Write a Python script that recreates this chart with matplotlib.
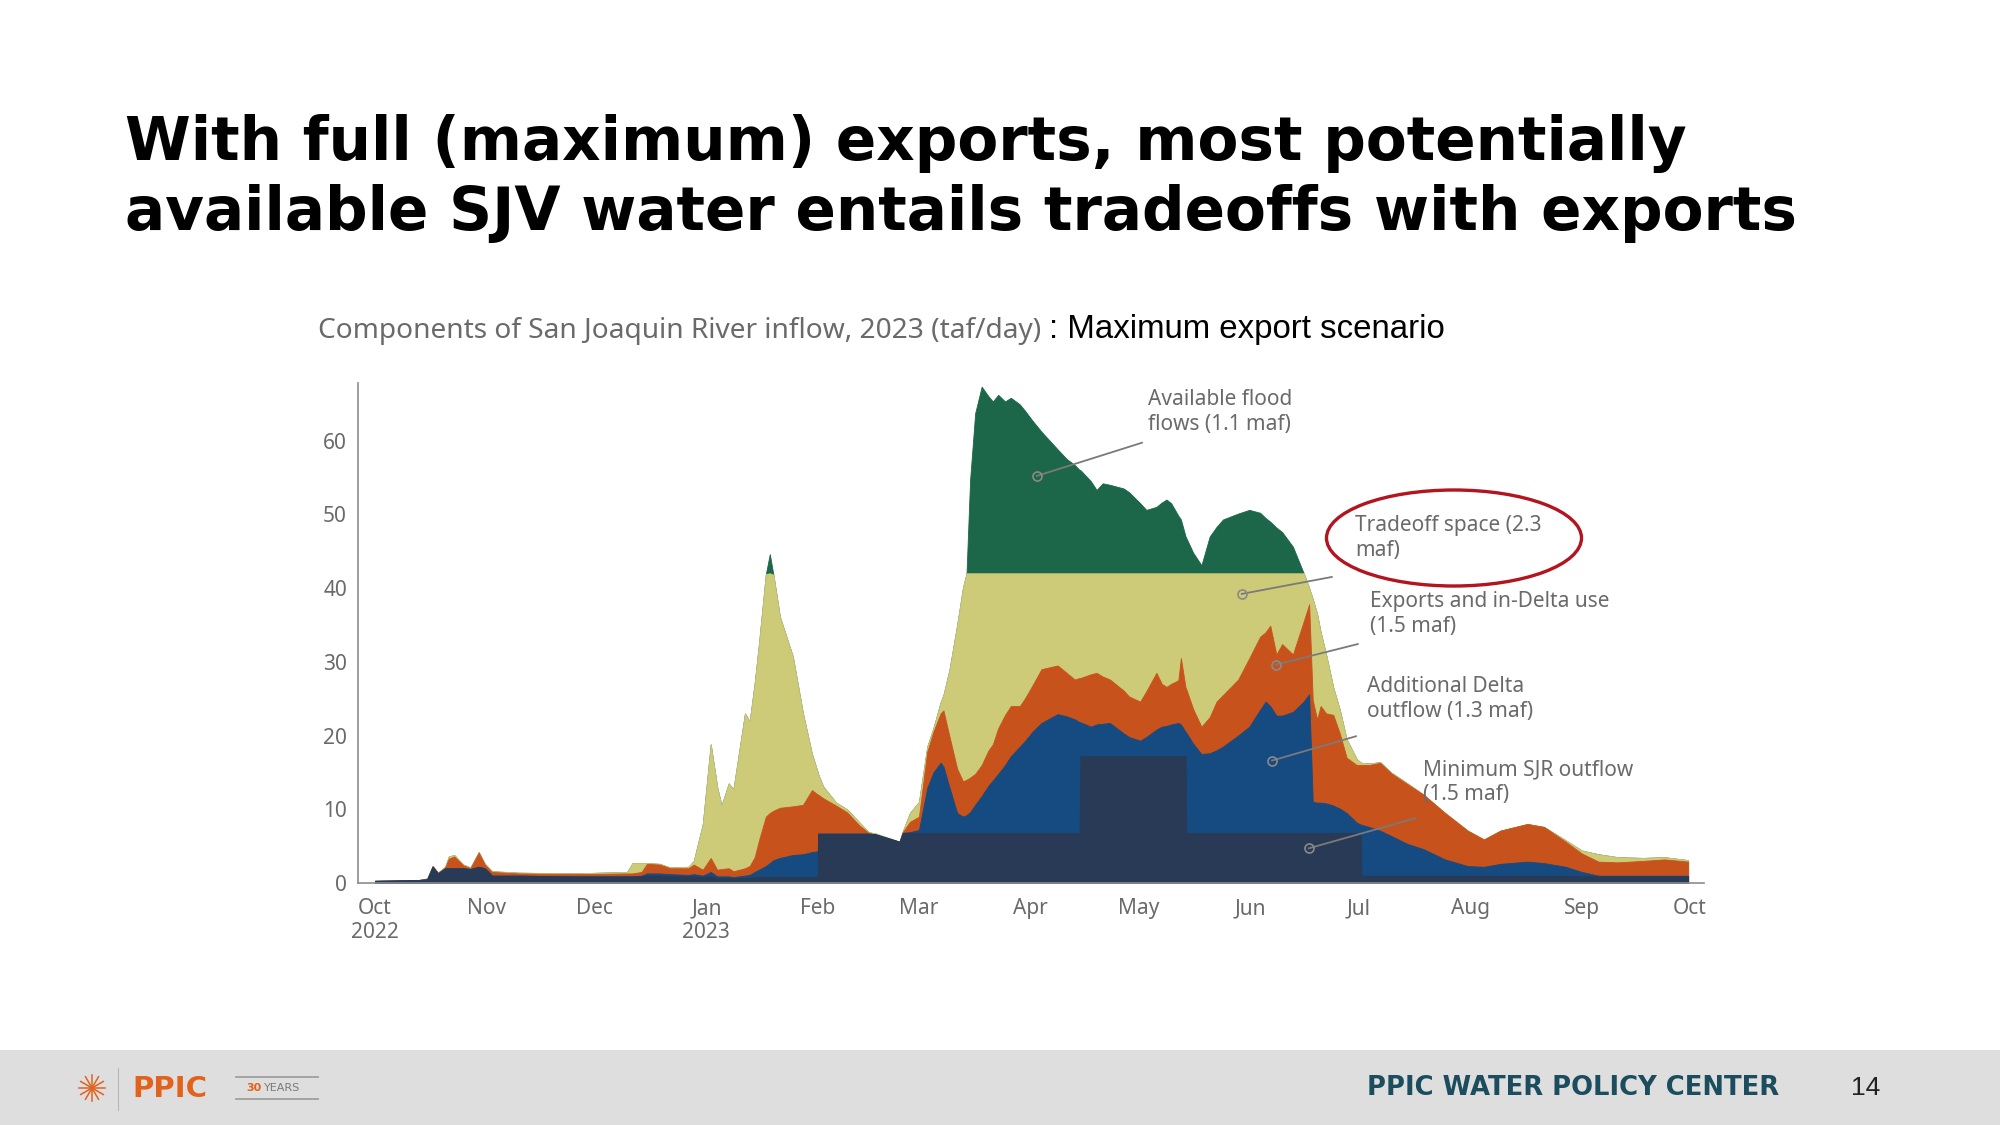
import numpy as np
import matplotlib
matplotlib.use("Agg")
import matplotlib.pyplot as plt
import matplotlib.dates as mdates
from matplotlib.patches import Ellipse, Rectangle
from datetime import datetime

# days after 1 Oct 2022
day = [0, 12, 14.5, 16, 17.5, 19.5, 20.5, 22, 24.5, 26.5,
       28.8, 30.5, 32.5, 40, 55, 70, 71.5, 74, 75.5, 79,
       82, 87, 88.5, 91, 93.2, 95, 96.2, 98.2, 99.5, 102.7,
       104, 105.4, 106.6, 108.5, 109.6, 110.6, 112.4, 116, 118.8, 121.3,
       122.9, 123, 124.4, 128, 131, 134.5, 137, 139, 145.6, 146.5,
       148.5, 151, 153.3, 155, 157, 157.8, 159.5, 161.6, 163.2, 164.2,
       165.2, 166.6, 168.4, 170.3, 171.5, 173, 174.9, 176.5, 179, 180.5,
       182.5, 185, 189.5, 192, 194.2, 195.6, 195.8, 198.7, 200.3, 202,
       204, 207.8, 209.3, 212.4, 214.1, 216.9, 218.4, 219.7, 221, 223,
       223.7, 225, 225.2, 227.1, 229.4, 231.7, 233.6, 235.4, 239.6, 242.7,
       245.7, 247.2, 248.5, 250.2, 251.8, 254.8, 257.8, 259.3, 260.3, 261.5,
       262.5, 264, 266, 267.8, 269.7, 272.5, 273.7, 273.8, 276, 279,
       282, 286.6, 291, 297, 303.3, 307.8, 312.4, 319.9, 324.5, 330.5,
       335, 339.6, 345, 352, 358, 364.5]

# upper edge of each stacked layer, taf/day
edge_min_sjr = [0.3, 0.4, 0.5, 2.2, 1.3, 2.0, 2.0, 2.0, 2.0, 1.9,
                2.2, 2.0, 1.0, 1.0, 0.9, 0.9, 0.9, 0.9, 1.0, 1.0,
                0.9, 0.9, 0.9, 0.8, 0.9, 0.7, 0.7, 0.7, 0.6, 0.7,
                0.7, 0.8, 0.8, 0.8, 0.8, 0.8, 0.8, 0.8, 0.8, 0.8,
                0.8, 6.7, 6.7, 6.7, 6.7, 6.7, 6.7, 6.6, 5.6, 6.8,
                6.8, 6.8, 6.8, 6.8, 6.8, 6.8, 6.8, 6.8, 6.8, 6.8,
                6.8, 6.8, 6.8, 6.8, 6.8, 6.8, 6.8, 6.8, 6.8, 6.8,
                6.8, 6.8, 6.8, 6.8, 6.8, 6.8, 17.2, 17.2, 17.2, 17.2,
                17.2, 17.2, 17.2, 17.2, 17.2, 17.2, 17.2, 17.2, 17.2, 17.2,
                17.2, 17.2, 6.8, 6.8, 6.8, 6.8, 6.8, 6.8, 6.8, 6.8,
                6.8, 6.8, 6.8, 6.8, 6.8, 6.8, 6.8, 6.8, 6.8, 6.8,
                6.8, 6.8, 6.8, 6.8, 6.8, 6.8, 6.8, 1.0, 1.0, 1.0,
                1.0, 1.0, 1.0, 1.0, 1.0, 1.0, 1.0, 1.0, 1.0, 1.0,
                0.9, 0.9, 0.9, 0.9, 0.9, 0.9]
edge_delta_outflow = [0.3, 0.4, 0.5, 2.2, 1.3, 2.0, 2.0, 2.0, 2.0, 1.9,
                      2.2, 2.0, 1.0, 1.0, 0.9, 0.9, 0.9, 1.0, 1.3, 1.3,
                      1.2, 1.1, 1.2, 1.0, 1.5, 0.9, 0.9, 0.9, 0.8, 1.0,
                      1.1, 1.5, 1.8, 2.3, 2.7, 3.1, 3.4, 3.8, 3.9, 4.2,
                      4.3, 6.7, 6.7, 6.7, 6.7, 6.7, 6.7, 6.6, 5.6, 6.8,
                      6.9, 7.2, 12.9, 15.0, 16.3, 15.8, 12.9, 9.5, 9.0, 9.2,
                      9.6, 10.6, 11.8, 13.2, 13.9, 14.8, 16.0, 17.2, 18.5, 19.3,
                      20.5, 21.7, 22.9, 22.6, 22.2, 21.8, 21.8, 21.2, 21.5, 21.6,
                      21.7, 20.3, 19.8, 19.3, 19.8, 20.8, 21.2, 21.3, 21.5, 21.7,
                      21.5, 20.5, 20.4, 18.9, 17.5, 17.6, 18.0, 18.5, 20.0, 21.2,
                      23.5, 24.6, 24.0, 22.7, 22.7, 23.2, 24.6, 25.6, 11.0, 10.9,
                      10.9, 10.8, 10.5, 10.1, 9.5, 8.2, 7.9, 7.9, 7.6, 7.1,
                      6.4, 5.3, 4.6, 3.2, 2.3, 2.2, 2.6, 2.9, 2.7, 2.2,
                      1.5, 1.0, 1.0, 1.0, 1.0, 1.0]
edge_exports = [0.3, 0.4, 0.6, 2.3, 1.4, 2.1, 3.3, 3.6, 2.4, 2.0,
                4.1, 2.5, 1.5, 1.3, 1.2, 1.3, 1.3, 1.5, 2.6, 2.5,
                2.0, 2.0, 2.5, 1.8, 3.4, 1.8, 1.9, 2.0, 1.6, 2.0,
                2.3, 3.5, 5.8, 9.0, 9.5, 9.8, 10.2, 10.4, 10.6, 12.6,
                12.0, 12.0, 11.5, 10.5, 9.6, 7.8, 6.8, 6.6, 5.6, 6.9,
                8.3, 9.0, 17.8, 20.5, 23.0, 23.4, 19.8, 15.5, 13.8, 14.0,
                14.3, 14.8, 16.0, 18.0, 18.8, 21.0, 22.8, 24.0, 24.0, 25.1,
                26.8, 29.0, 29.5, 28.5, 27.6, 27.8, 27.8, 28.3, 28.5, 28.0,
                27.6, 26.1, 25.3, 24.6, 26.0, 28.5, 27.0, 26.6, 27.0, 27.5,
                30.5, 26.5, 26.3, 23.6, 21.2, 22.5, 24.6, 25.5, 27.6, 30.5,
                33.4, 34.0, 34.9, 31.0, 32.4, 31.0, 35.5, 37.8, 24.8, 22.2,
                24.0, 23.0, 22.8, 20.3, 17.0, 16.0, 16.0, 16.0, 16.0, 16.3,
                14.9, 13.4, 12.0, 9.5, 7.1, 5.9, 7.1, 8.0, 7.6, 5.6,
                4.0, 2.9, 2.8, 3.0, 3.2, 2.9]
edge_tradeoff = [0.3, 0.4, 0.6, 2.3, 1.4, 2.2, 3.6, 3.8, 2.5, 2.1,
                 4.2, 2.6, 1.6, 1.4, 1.3, 1.5, 2.7, 2.7, 2.7, 2.6,
                 2.1, 2.2, 3.0, 8.0, 18.8, 13.0, 10.5, 13.5, 12.7, 23.0,
                 21.9, 27.1, 32.5, 41.9, 42.0, 41.8, 36.1, 30.7, 23.0, 17.5,
                 15.0, 14.8, 13.1, 10.9, 10.0, 8.2, 6.9, 6.7, 5.6, 7.0,
                 9.5, 11.0, 18.5, 21.0, 24.5, 25.5, 29.0, 35.0, 40.0, 42.0,
                 42.0, 42.0, 42.0, 42.0, 42.0, 42.0, 42.0, 42.0, 42.0, 42.0,
                 42.0, 42.0, 42.0, 42.0, 42.0, 42.0, 42.0, 42.0, 42.0, 42.0,
                 42.0, 42.0, 42.0, 42.0, 42.0, 42.0, 42.0, 42.0, 42.0, 42.0,
                 42.0, 42.0, 42.0, 42.0, 42.0, 42.0, 42.0, 42.0, 42.0, 42.0,
                 42.0, 42.0, 42.0, 42.0, 42.0, 42.0, 42.0, 40.0, 38.5, 36.5,
                 34.0, 31.0, 26.5, 23.5, 19.5, 16.8, 16.3, 16.3, 16.2, 16.4,
                 15.0, 13.5, 12.0, 9.5, 7.1, 5.9, 7.1, 8.0, 7.6, 5.8,
                 4.4, 3.9, 3.5, 3.4, 3.5, 3.1]
edge_flood = [0.3, 0.4, 0.6, 2.3, 1.4, 2.2, 3.6, 3.8, 2.5, 2.1,
              4.2, 2.6, 1.6, 1.4, 1.3, 1.5, 2.7, 2.7, 2.7, 2.6,
              2.1, 2.2, 3.0, 8.0, 18.8, 13.0, 10.5, 13.5, 12.7, 23.0,
              21.9, 27.1, 32.5, 41.9, 44.6, 41.8, 36.1, 30.7, 23.0, 17.5,
              15.0, 14.8, 13.1, 10.9, 10.0, 8.2, 6.9, 6.7, 5.6, 7.0,
              9.5, 11.0, 18.5, 21.0, 24.5, 25.5, 29.0, 35.0, 40.0, 42.0,
              54.7, 63.7, 67.3, 66.0, 65.3, 66.2, 65.3, 65.8, 64.9, 64.0,
              62.7, 61.2, 58.8, 57.5, 56.7, 56.0, 56.0, 54.5, 53.3, 54.2,
              54.0, 53.5, 53.0, 51.5, 50.6, 51.0, 51.6, 52.0, 51.5, 49.8,
              49.3, 47.0, 46.8, 44.8, 43.1, 47.0, 48.3, 49.3, 50.1, 50.6,
              50.2, 49.5, 49.0, 48.2, 47.6, 45.6, 42.0, 40.0, 38.5, 36.5,
              34.0, 31.0, 26.5, 23.5, 19.5, 16.8, 16.3, 16.3, 16.2, 16.4,
              15.0, 13.5, 12.0, 9.5, 7.1, 5.9, 7.1, 8.0, 7.6, 5.8,
              4.4, 3.9, 3.5, 3.4, 3.5, 3.1]

layer_colors = ['#283a55', '#154b80', '#c8521c', '#cdca78', '#1c664a']
month_labels = ['Oct\n2022', 'Nov', 'Dec', 'Jan\n2023', 'Feb', 'Mar', 'Apr',
                'May', 'Jun', 'Jul', 'Aug', 'Sep', 'Oct']

# label text, circle (day, value), line end (day, value), text anchor (day, value)
notes = [
    ('Available flood\nflows (1.1 maf)', (183.7, 55.2), (212.9, 59.7), (214.5, 63.9)),
    ('Tradeoff space (2.3\nmaf)', (240.6, 39.2), (265.6, 41.5), (272.0, 46.8)),
    ('Exports and in-Delta use\n(1.5 maf)', (250.0, 29.6), (272.8, 32.4), (276.2, 36.5)),
    ('Additional Delta\noutflow (1.3 maf)', (249.0, 16.6), (272.3, 19.9), (275.3, 25.0)),
    ('Minimum SJR outflow\n(1.5 maf)', (259.2, 4.7), (288.9, 8.8), (290.9, 13.7)),
]

W, H = 2000, 1125
chart_font = 'Noto Sans'
grey = '#6a6a6a'
fig = plt.figure(figsize=(20, 11.25), dpi=100)

# overlay in pixel units for slide furniture
ov = fig.add_axes([0, 0, 1, 1], zorder=0)
ov.set_xlim(0, W)
ov.set_ylim(H, 0)
ov.axis('off')

ov.add_patch(Rectangle((0, 1050), W, 75, color='#dedede', lw=0))
ov.text(125, 160, 'With full (maximum) exports, most potentially', fontsize=42.9,
        fontweight='bold', family='DejaVu Sans', color='black', va='baseline')
ov.text(125, 230, 'available SJV water entails tradeoffs with exports', fontsize=42.9,
        fontweight='bold', family='DejaVu Sans', color='black', va='baseline')
ov.text(318, 338, 'Components of San Joaquin River inflow, 2023 (taf/day)', fontsize=20.2,
        family=chart_font, color=grey, va='baseline')
ov.text(1049, 338, ': Maximum export scenario', fontsize=23.8,
        family='Liberation Sans', color='black', va='baseline')

ov.add_patch(Ellipse((1454, 538), 255, 96, fill=False, ec='#b3141e', lw=2.4))

# footer logo
cx, cy = 92, 1088
for a in np.linspace(0, np.pi, 7)[:-1]:
    dx, dy = 13 * np.cos(a), 13 * np.sin(a)
    ov.plot([cx - dx, cx + dx], [cy - dy, cy + dy], color='#e0631f', lw=1.1)
ov.plot([118, 118], [1068, 1110], color='#b8b8b8', lw=0.8)
ov.text(132, 1089, 'PPIC', fontsize=21, fontweight='bold', family='DejaVu Sans',
        color='#e2621b', va='center')
ov.plot([236, 318], [1077, 1077], color='#9a9a9a', lw=1.2)
ov.plot([236, 318], [1099, 1099], color='#9a9a9a', lw=1.2)
ov.text(246, 1088, '30', fontsize=8, fontweight='bold', color='#e2621b', va='center')
ov.text(264, 1088, 'YEARS', fontsize=8, color='#7a7a7a', va='center')
ov.text(1367, 1088, 'PPIC WATER POLICY CENTER', fontsize=18.6, fontweight='bold',
        family='DejaVu Sans', color='#1b4d5e', va='center')
ov.text(1851, 1088, '14', fontsize=19, family='Liberation Sans', color='#222222', va='center')

# chart
ax = fig.add_axes([358 / W, 1 - 883 / H, (1704 - 358) / W, 500 / H], zorder=2)
ax.patch.set_alpha(0)
base = mdates.date2num(datetime(2022, 10, 1))
x = base + np.array(day)
edges = [edge_min_sjr, edge_delta_outflow, edge_exports, edge_tradeoff, edge_flood]
# draw from the top layer down so that each lower layer covers the one above
for edge, col in reversed(list(zip(edges, layer_colors))):
    ax.fill_between(x, 0, edge, color=col, lw=0.6, ec=col)

month_pos = [mdates.date2num(datetime(2022 + (9 + i) // 12, (9 + i) % 12 + 1, 1))
             for i in range(13)]
ax.set_xticks(month_pos)
ax.set_xticklabels(month_labels, family=chart_font, fontsize=15, color=grey,
                   linespacing=1.2)
ax.set_yticks(range(0, 61, 10))
ax.set_yticklabels([str(v) for v in range(0, 61, 10)], family=chart_font, fontsize=15,
                   color=grey)
ax.tick_params(length=0)
ax.tick_params(axis='x', pad=11)
ax.tick_params(axis='y', pad=8)
ax.set_xlim(base - 4.7, base + 368.9)
ax.set_ylim(0, 67.8)
for s in ['top', 'right']:
    ax.spines[s].set_visible(False)
for s in ['left', 'bottom']:
    ax.spines[s].set_color('#8c8c8c')
    ax.spines[s].set_linewidth(1.2)

for label, pt, end, txt in notes:
    ax.plot([base + pt[0], base + end[0]], [pt[1], end[1]], color='#7a7a7a', lw=1.3)
    ax.plot(base + pt[0], pt[1], 'o', ms=6.5, mfc='none', mec='#8a8a8a', mew=1.2)
    ax.text(base + txt[0], txt[1], label, family=chart_font, fontsize=15, color=grey,
            va='center', ha='left', linespacing=1.25)

fig.savefig('out.png', dpi=100)
